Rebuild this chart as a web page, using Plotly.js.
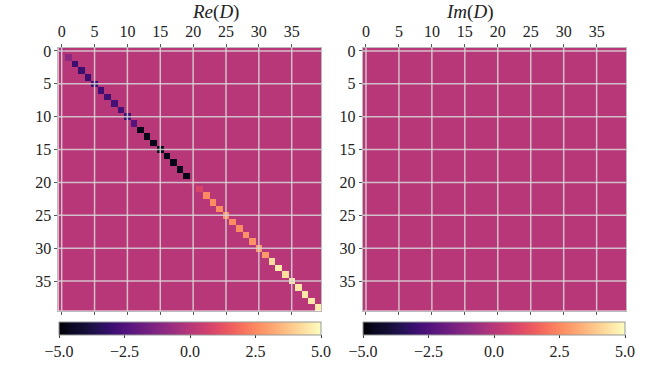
<!DOCTYPE html>
<html>
<head>
    <script src="https://cdn.plot.ly/plotly-3.0.1.min.js"></script>
    <style>
        body { margin: 0; background: white; }
        #chart { width: 656px; height: 388px; }
    </style>
</head>
<body>
    <div id="chart"></div>
    <script>
        const reDiag = [-0.3, -1.0, -3.0, -3.0, -3.0, -3.0, -2.9, -2.9, -2.8, -2.7,
                        -2.9, -2.4, -4.7, -4.7, -4.7, -4.7, -4.7, -4.7, -4.6, -4.7,
                        0.3, 0.8, 2.5, 2.6, 2.6, 2.6, 2.6, 2.6, 2.7, 2.7,
                        2.8, 2.9, 4.3, 4.6, 4.3, 4.5, 4.5, 4.5, 4.5, 4.6];
        // imaginary part is zero everywhere
        const imDiag = new Array(40).fill(0);
        const axisTicks = [0, 5, 10, 15, 20, 25, 30, 35];
        const cbTicks = [-5, -2.5, 0, 2.5, 5];
        const cbLabels = ['\u22125.0', '\u22122.5', '0.0', '2.5', '5.0'];

        const magma = [
            [0.0, '#000004'], [0.05, '#0b0924'], [0.1, '#140e36'], [0.15, '#251255'],
            [0.2, '#3b0f70'], [0.25, '#51127c'], [0.3, '#641a80'], [0.35, '#782281'],
            [0.4, '#8c2981'], [0.45, '#a1307e'], [0.5, '#b73779'], [0.55, '#cb3e71'],
            [0.6, '#de4968'], [0.65, '#ed5a5f'], [0.7, '#f7705c'], [0.75, '#fc8961'],
            [0.8, '#fe9f6d'], [0.85, '#feb77e'], [0.9, '#fecf92'], [0.95, '#fde6a8'],
            [1.0, '#fcfdbf']
        ];

        function diagMatrix(d) {
            return d.map((v, i) => d.map((_, j) => (i === j ? v : 0)));
        }

        const font = {family: '"Liberation Serif", serif', size: 16, color: '#222'};

        function cbar(x0, x1) {
            return {
                orientation: 'h',
                x: (x0 + x1) / 2 / 656, xanchor: 'center',
                y: 1 - 322.3 / 388, yanchor: 'top',
                len: (x1 - x0) / 656, lenmode: 'fraction',
                thickness: 12.7, thicknessmode: 'pixels',
                xpad: 0, ypad: 0,
                outlinewidth: 1, outlinecolor: '#999',
                tickmode: 'array', tickvals: cbTicks, ticktext: cbLabels,
                ticks: 'outside', ticklen: 3, tickcolor: '#333',
                tickfont: font
            };
        }

        const traces = [
            {
                type: 'heatmap', z: diagMatrix(reDiag), xaxis: 'x', yaxis: 'y',
                colorscale: magma, zmin: -5, zmax: 5, hoverinfo: 'skip',
                colorbar: cbar(59, 321)
            },
            {
                type: 'heatmap', z: diagMatrix(imDiag), xaxis: 'x2', yaxis: 'y2',
                colorscale: magma, zmin: -5, zmax: 5, hoverinfo: 'skip',
                colorbar: cbar(363, 625)
            }
        ];

        function xax(domain, anchor) {
            return {
                domain: domain, anchor: anchor, side: 'top',
                range: [-0.5, 39.5], tickmode: 'array', tickvals: axisTicks,
                ticks: 'outside', ticklen: 3, tickcolor: '#555',
                showgrid: false, zeroline: false,
                showline: true, linecolor: '#bbb', linewidth: 1, mirror: 'allticks',
                tickfont: font, automargin: false
            };
        }
        function yax(anchor) {
            return {
                domain: [1 - 310.7 / 388, 1 - 47.7 / 388], anchor: anchor,
                range: [39.5, -0.5], tickmode: 'array', tickvals: axisTicks,
                ticks: 'outside', ticklen: 3, tickcolor: '#555',
                showgrid: false, zeroline: false,
                showline: true, linecolor: '#bbb', linewidth: 1, mirror: true,
                tickfont: font, automargin: false
            };
        }

        // grid lines sit above the heatmap, so draw them as shapes
        const shapes = [];
        [['x', 'y'], ['x2', 'y2']].forEach(([xr, yr]) => {
            axisTicks.forEach(t => {
                shapes.push({type: 'line', layer: 'above', xref: xr, yref: yr + ' domain',
                    x0: t, x1: t, y0: 0, y1: 1, line: {color: 'rgba(215,215,215,0.85)', width: 1.5}});
                shapes.push({type: 'line', layer: 'above', xref: xr + ' domain', yref: yr,
                    x0: 0, x1: 1, y0: t, y1: t, line: {color: 'rgba(215,215,215,0.85)', width: 1.5}});
            });
        });

        const titleFont = {family: '"Liberation Serif", serif', size: 19, color: '#222'};
        const layout = {
            width: 656, height: 388,
            margin: {l: 0, r: 0, t: 0, b: 0},
            paper_bgcolor: 'white', plot_bgcolor: 'white',
            font: font,
            xaxis: xax([58.4 / 656, 321.3 / 656], 'y'),
            yaxis: yax('x'),
            xaxis2: xax([362.7 / 656, 626.3 / 656], 'y2'),
            yaxis2: yax('x2'),
            shapes: shapes,
            annotations: [
                {text: '<i>Re</i>(<i>D</i>)', xref: 'paper', yref: 'paper',
                 x: (58.4 + 321.3) / 2 / 656, y: 1 - 12 / 388, yanchor: 'middle',
                 showarrow: false, font: titleFont},
                {text: '<i>Im</i>(<i>D</i>)', xref: 'paper', yref: 'paper',
                 x: (362.7 + 626.3) / 2 / 656, y: 1 - 12 / 388, yanchor: 'middle',
                 showarrow: false, font: titleFont}
            ]
        };

        Plotly.newPlot('chart', traces, layout, {displayModeBar: false, staticPlot: true});
    </script>
</body>
</html>
